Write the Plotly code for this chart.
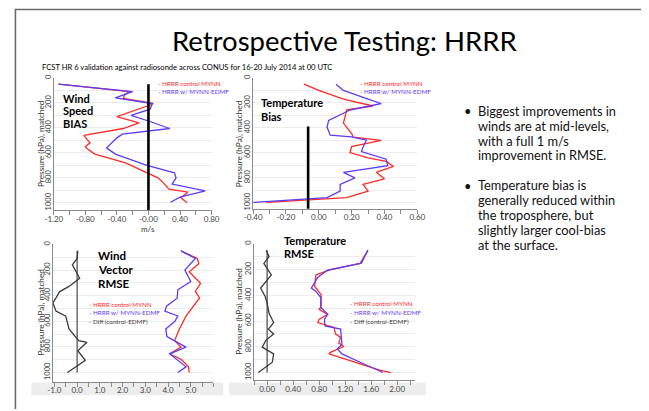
import plotly.graph_objects as go

W, H = 649, 411
FONT = "Lato"
RED = "#ff2a2a"
BLUE = "#5b3cf5"
DIFF = "#3a3a3a"

# ---- Wind speed bias (m/s) ----
ws_ctrl_p = [50, 110, 135, 165, 205, 215, 310, 330, 360, 405, 460, 520, 550, 565, 610, 680, 755, 800, 840, 890, 915, 960, 1000]
ws_ctrl_v = [-1.14, -0.25, -0.30, -0.32, 0.06, 0.03, -0.40, -0.30, -0.12, -0.32, -0.82, -0.74, -0.80, -0.78, -0.68, -0.29, -0.02, 0.12, 0.19, 0.26, 0.50, 0.41, 0.49]
ws_edmf_p = [50, 110, 160, 205, 250, 300, 345, 405, 450, 480, 560, 610, 700, 760, 800, 850, 905, 955, 995]
ws_edmf_v = [-1.14, -0.20, -0.42, 0.05, 0.02, -0.22, 0.00, 0.27, -0.33, -0.40, -0.53, -0.42, -0.02, 0.33, 0.35, 0.30, 0.72, 0.40, 0.28]
ws_ref_x = [0.0, 0.0]
ws_ref_p = [50, 1100]

# ---- Temperature bias (K) ----
tb_ctrl_p = [50, 100, 170, 205, 225, 256, 300, 362, 446, 475, 500, 550, 598, 640, 669, 709, 756, 808, 853, 906, 958, 997]
tb_ctrl_v = [-0.09, 0.0, 0.15, 0.27, 0.33, 0.17, 0.16, 0.15, 0.20, 0.21, 0.38, 0.20, 0.19, 0.30, 0.41, 0.455, 0.35, 0.40, 0.27, 0.30, 0.17, -0.32]
tb_edmf_p = [50, 100, 170, 205, 257, 341, 394, 459, 472, 499, 551, 590, 651, 703, 756, 800, 853, 906, 958, 997]
tb_edmf_v = [0.105, 0.15, 0.30, 0.38, 0.19, 0.06, 0.05, 0.07, 0.20, 0.29, 0.27, 0.26, 0.41, 0.42, 0.15, 0.22, 0.13, 0.13, 0.05, -0.40]
tb_ref_x = [-0.065, -0.065]
tb_ref_p = [390, 1100]

# ---- Wind vector RMSE (m/s) ----
wv_ctrl_p = [50, 110, 150, 213, 303, 367, 418, 508, 560, 661, 751, 802, 854, 900, 956, 1000]
wv_ctrl_v = [4.57, 5.29, 5.35, 4.93, 5.43, 5.20, 5.39, 5.00, 4.79, 4.50, 4.29, 4.57, 4.07, 4.60, 4.90, 4.93]
wv_edmf_p = [50, 110, 200, 290, 354, 420, 482, 520, 559, 600, 660, 720, 802, 854, 956, 1000]
wv_edmf_v = [4.57, 5.20, 4.74, 5.00, 4.43, 4.40, 3.93, 3.86, 4.43, 4.30, 3.90, 3.95, 4.79, 4.07, 4.79, 4.43]
wv_diff_p = [50, 110, 160, 264, 328, 370, 418, 456, 520, 560, 610, 660, 751, 764, 830, 905, 950, 1000]
wv_diff_v = [0.03, 0.0, -0.21, 0.11, -0.36, -0.78, -0.93, -1.07, -0.93, -0.50, -0.43, -0.36, 0.07, 0.43, 0.03, 0.36, 0.00, -0.43]
wv_ref_x = [0.0, 0.0]
wv_ref_p = [50, 1000]

# ---- Temperature RMSE (K) ----
tr_ctrl_p = [50, 153, 204, 242, 330, 395, 497, 510, 548, 587, 612, 650, 700, 727, 770, 798, 842, 855, 920, 982, 1000]
tr_ctrl_v = [1.55, 1.43, 0.95, 0.75, 0.73, 0.83, 0.82, 0.80, 0.93, 0.80, 0.78, 1.03, 1.05, 1.13, 1.10, 1.18, 0.98, 0.95, 1.35, 1.73, 1.90]
tr_edmf_p = [50, 150, 204, 260, 344, 370, 420, 497, 531, 548, 587, 638, 663, 740, 780, 816, 855, 920, 1000]
tr_edmf_v = [1.55, 1.45, 0.93, 0.78, 0.68, 0.75, 0.83, 0.83, 0.90, 0.93, 0.88, 0.89, 1.13, 1.15, 1.15, 1.08, 1.15, 1.43, 1.78]
tr_diff_p = [50, 100, 153, 242, 344, 410, 460, 540, 612, 663, 700, 750, 803, 855, 920, 1000]
tr_diff_v = [-0.015, 0.03, -0.05, 0.065, -0.10, -0.03, 0.00, 0.03, 0.10, 0.02, 0.10, -0.02, -0.075, 0.10, 0.08, -0.135]
tr_ref_x = [0.0, 0.0]
tr_ref_p = [50, 1000]

# tick labels
ws_ticks = [-1.2, -0.8, -0.4, 0.0, 0.4, 0.8]
ws_ticktext = ["-1.20", "-0.80", "-0.40", "-0.00", "0.40", "0.80"]
tb_ticks = [-0.4, -0.2, 0.0, 0.2, 0.4, 0.6]
tb_ticktext = ["-0.40", "-0.20", "0.00", "0.20", "0.40", "0.60"]
wv_ticks = [-1, 0, 1, 2, 3, 4, 5]
wv_ticktext = ["-1.0", "0.0", "1.0", "2.0", "3.0", "4.0", "5.0"]
tr_ticks = [0.0, 0.4, 0.8, 1.2, 1.6, 2.0]
tr_ticktext = ["0.00", "0.40", "0.80", "1.20", "1.60", "2.00"]
p_ticks = [0, 200, 400, 600, 800, 1000]
p_ticktext = ["0", "200", "400", "600", "800", "1000"]
p_minor = [100, 300, 500, 700, 900]

# slide notes
bul1 = ["Biggest improvements in", "winds are at mid-levels,", "with a full 1 m/s", "improvement in RMSE."]
bul2 = ["Temperature bias is", "generally reduced within", "the troposphere, but", "slightly larger cool-bias", "at the surface."]


def fx(x):
    return x / W


def fy(y):
    return 1 - y / H


fig = go.Figure()


def line(xs, ys, color, n, width=1.3):
    ax = "" if n == 1 else str(n)
    fig.add_trace(go.Scatter(x=xs, y=ys, mode="lines", line=dict(color=color, width=width),
                             xaxis="x" + ax, yaxis="y" + ax, showlegend=False, hoverinfo="skip"))


line(ws_ctrl_v, ws_ctrl_p, RED, 1)
line(ws_edmf_v, ws_edmf_p, BLUE, 1)
line(ws_ref_x, ws_ref_p, "#000000", 1, 2.6)

line(tb_ctrl_v, tb_ctrl_p, RED, 2)
line(tb_edmf_v, tb_edmf_p, BLUE, 2)
line(tb_ref_x, tb_ref_p, "#000000", 2, 2.6)

line(wv_ref_x, wv_ref_p, "#555555", 3, 1.3)
line(wv_diff_v, wv_diff_p, DIFF, 3)
line(wv_ctrl_v, wv_ctrl_p, RED, 3)
line(wv_edmf_v, wv_edmf_p, BLUE, 3)

line(tr_ref_x, tr_ref_p, "#555555", 4, 1.3)
line(tr_diff_v, tr_diff_p, DIFF, 4)
line(tr_ctrl_v, tr_ctrl_p, RED, 4)
line(tr_edmf_v, tr_edmf_p, BLUE, 4)

AXC = "#8a8a8a"
TICKF = dict(family=FONT, size=8, color="#444444")


def xax(dom, rng, tv, tt, minor_dtick, anchor, standoff):
    return dict(domain=[fx(dom[0]), fx(dom[1])], range=rng, anchor=anchor,
                tickvals=tv, ticktext=tt, ticks="outside", ticklen=4, tickcolor=AXC,
                ticklabelstandoff=standoff,
                showline=True, linecolor=AXC, linewidth=1, showgrid=False, zeroline=False,
                tickfont=TICKF, minor=dict(dtick=minor_dtick, tick0=0, ticks="outside", ticklen=4, tickcolor=AXC),
                fixedrange=True)


def yax(top, bottom, rng, anchor):
    return dict(domain=[fy(bottom), fy(top)], range=rng, anchor=anchor,
                tickvals=p_ticks, ticktext=p_ticktext, tickangle=-90, ticks="",
                ticklabelstandoff=-1,
                showline=True, linecolor=AXC, linewidth=1,
                showgrid=True, gridcolor="#ececec", gridwidth=1, zeroline=False,
                minor=dict(tickvals=p_minor, showgrid=True, gridcolor="#ececec"),
                tickfont=dict(family=FONT, size=7.5, color="#444444"), fixedrange=True)


fig.update_layout(
    width=W, height=H, margin=dict(l=0, r=0, t=0, b=0),
    paper_bgcolor="white", plot_bgcolor="white",
    font=dict(family=FONT, color="#222222"),
    xaxis=xax((46, 208), [-1.2, 0.8], ws_ticks, ws_ticktext, 0.2, "y", -3),
    yaxis=yax(75, 209, [1057, 0], "x"),
    xaxis2=xax((250.7, 419.3), [-0.4, 0.6], tb_ticks, tb_ticktext, 0.1, "y2", -3),
    yaxis2=yax(75, 207.7, [1047, 0], "x2"),
    xaxis3=xax((45, 210), [-1.07, 6.0], wv_ticks, wv_ticktext, 0.5, "y3", -3),
    yaxis3=yax(244, 383.3, [1072, 0], "x3"),
    xaxis4=xax((251.7, 416.7), [-0.2, 2.27], tr_ticks, tr_ticktext, 0.2, "y4", -3),
    yaxis4=yax(243.3, 381.7, [1059, 0], "x4"),
)

shapes = [
    # slide frame
    dict(type="line", xref="paper", yref="paper", x0=fx(6.6), x1=fx(6.6), y0=fy(5), y1=fy(411),
         line=dict(color="#6a6a6a", width=1.6)),
    dict(type="line", xref="paper", yref="paper", x0=fx(6), x1=1, y0=fy(5.6), y1=fy(5.6),
         line=dict(color="#6a6a6a", width=1.6)),
    # shaded strips behind lower tick labels
    dict(type="rect", xref="paper", yref="paper", x0=fx(23), x1=fx(220), y0=fy(397), y1=fy(384),
         fillcolor="#ededed", line=dict(width=0), layer="below"),
    dict(type="rect", xref="paper", yref="paper", x0=fx(226), x1=fx(428), y0=fy(397), y1=fy(384),
         fillcolor="#ededed", line=dict(width=0), layer="below"),
]
fig.update_layout(shapes=shapes)

ann = []


def text(x, y, s, size, color="#111111", bold=False, anchor="left", angle=0, yanchor="middle"):
    if bold:
        s = "<b>" + s + "</b>"
    ann.append(dict(x=fx(x), y=fy(y), xref="paper", yref="paper", text=s, showarrow=False,
                    xanchor=anchor, yanchor=yanchor, textangle=angle, align="left",
                    font=dict(family=FONT, size=size, color=color)))


text(345, 37, "Retrospective Testing: HRRR", 27.5, "#000000", anchor="center")
text(32, 64, "FCST HR 6 validation against radiosonde across CONUS for 16-20 July 2014 at 00 UTC", 7.6, "#000000")

# panel labels
for i, s in enumerate(["Wind", "Speed", "BIAS"]):
    text(53, 96 + i * 12.5, s, 11, "#000000", bold=True)
for i, s in enumerate(["Temperature", "Bias"]):
    text(256.5, 100 + i * 14.5, s, 11, "#000000", bold=True)
for i, s in enumerate(["Wind", "Vector", "RMSE"]):
    text(89, 255 + i * 14.2, s, 11.5, "#000000", bold=True)
for i, s in enumerate(["Temperature", "RMSE"]):
    text(280, 240 + i * 13.6, s, 11, "#000000", bold=True)

# series keys
LG = 6.3
text(151, 80.7, "- HRRR control MYNN", LG, RED)
text(151, 89.3, "- HRRR w/ MYNN-EDMF", LG, BLUE)
text(358, 80.5, "- HRRR control MYNN", LG, RED)
text(358, 89.3, "- HRRR w/ MYNN-EDMF", LG, BLUE)
text(80, 305, "- HRRR control MYNN", LG, RED)
text(80, 313.3, "- HRRR w/ MYNN-EDMF", LG, BLUE)
text(80, 321.7, "- Diff (control-EDMF)", LG, DIFF)
text(348, 304.3, "- HRRR control MYNN", LG, RED)
text(348, 313.3, "- HRRR w/ MYNN-EDMF", LG, BLUE)
text(348, 321.7, "- Diff (control-EDMF)", LG, DIFF)

# axis titles
YT = "Pressure (hPa), matched"
text(33, 142, YT, 8.3, "#333333", anchor="center", angle=-90)
text(236.5, 142, YT, 8.3, "#333333", anchor="center", angle=-90)
text(33, 313, YT, 8.3, "#333333", anchor="center", angle=-90)
text(236.5, 312, YT, 8.3, "#333333", anchor="center", angle=-90)
text(143, 228, "m/s", 8, "#333333", anchor="center")


# bullet blocks: line pitch set by the block font size (1.3 em), glyphs drawn larger
def bullet_block(y_first, lines, pitch, glyph):
    base = pitch / 1.3
    body = "<br>".join('<span style="font-size:%gpx">%s</span>' % (glyph, s) for s in lines)
    center = y_first + pitch * (len(lines) - 1) / 2
    text(480, center, body, base, "#111111")
    text(465, y_first, "•", glyph, "#111111")


bullet_block(109, bul1, 14.8, 12.8)
bullet_block(184.3, bul2, 14.9, 12.8)

fig.update_layout(annotations=ann)
fig.write_html("out.html")
